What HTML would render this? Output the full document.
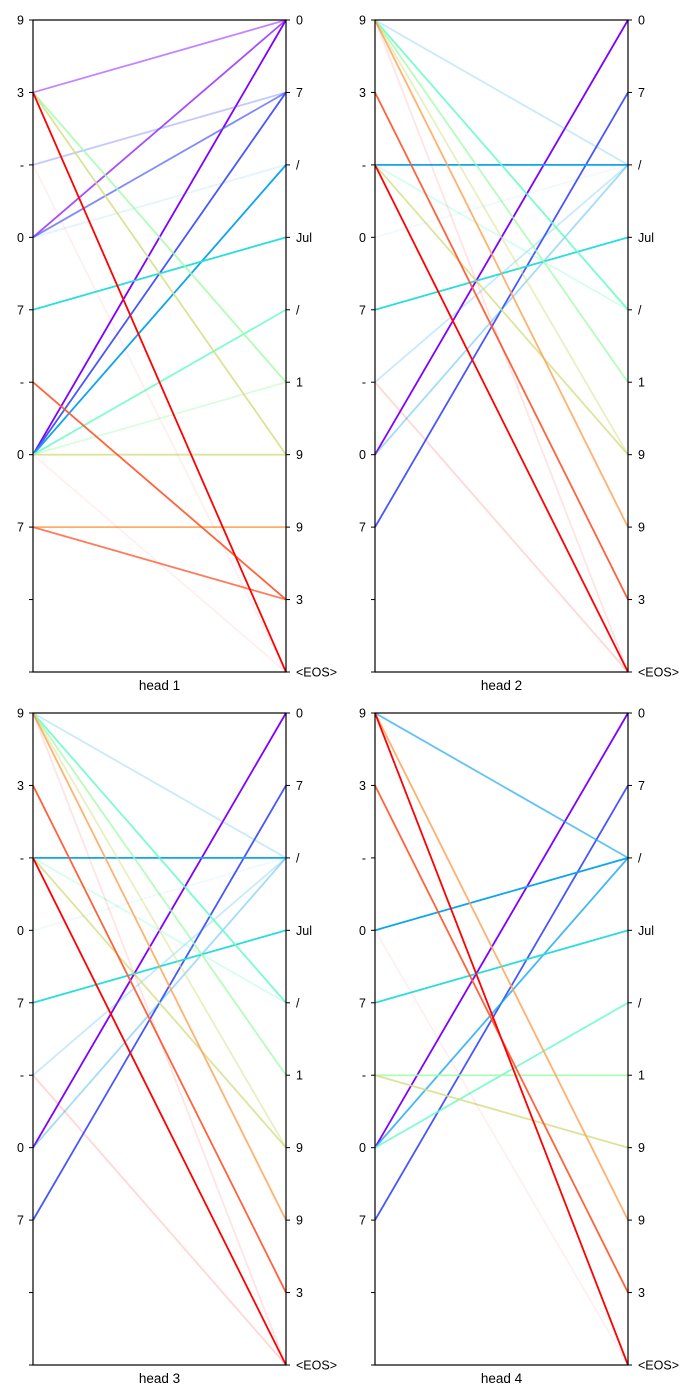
<!DOCTYPE html>
<html><head><meta charset="utf-8"><style>
html,body{margin:0;padding:0;background:#fff;}
svg{display:block;font-family:"Liberation Sans","DejaVu Sans",sans-serif;}
</style></head><body>
<svg id="chart" width="700" height="1400" viewBox="0 0 700 1400"></svg>
<script>
const leftTokens = ["9","3","-","0","7","-","0","7","",""];
const rightTokens = ["0","7","/","Jul","/","1","9","9","3","<EOS>"];
const headTitles = ["head 1","head 2","head 3","head 4"];
// edges: [source index, target index, weight]
const head1Edges = [[6,0,1],[3,0,0.6],[1,0,0.35],[0,0,0.02],[6,1,1],[3,1,0.6],[2,1,0.2],[6,2,1],[3,2,0.05],[4,3,1],[6,4,0.75],[1,5,0.7],[6,5,0.25],[1,6,0.75],[6,6,0.7],[7,7,0.85],[5,8,0.9],[7,8,0.7],[1,9,1],[2,9,0.02],[6,9,0.02]];
const head2Edges = [[6,0,1],[7,1,1],[2,2,1],[6,2,0.25],[0,2,0.12],[5,2,0.12],[4,3,1],[0,4,0.8],[2,4,0.15],[0,5,0.65],[2,6,0.7],[0,6,0.35],[0,7,0.8],[1,8,0.9],[2,9,1],[5,9,0.07],[0,9,0.04],[3,2,0.02]];
const head3Edges = [[6,0,1],[7,1,1],[2,2,1],[6,2,0.25],[0,2,0.12],[5,2,0.12],[4,3,1],[0,4,0.8],[2,4,0.15],[0,5,0.65],[2,6,0.7],[0,6,0.35],[0,7,0.8],[1,8,0.9],[2,9,1],[5,9,0.07],[0,9,0.04],[3,2,0.02]];
const head4Edges = [[6,0,1],[7,1,1],[0,2,0.55],[3,2,1],[6,2,0.7],[4,3,1],[6,4,0.75],[5,5,0.7],[5,6,0.75],[0,7,0.8],[1,8,0.9],[0,9,1],[3,9,0.02]];
const allEdges = [head1Edges, head2Edges, head3Edges, head4Edges];

const NS = "http://www.w3.org/2000/svg";
const svg = document.getElementById("chart");
const panels = [[33,20],[375,20],[33,713],[375,713]];
const PW = 253, PH = 652;
function rainbow(t){
  const c=v=>Math.round(Math.max(0,Math.min(1,v))*255);
  return `rgb(${c(Math.abs(2*t-0.5))},${c(Math.sin(Math.PI*t))},${c(Math.cos(Math.PI*t/2))})`;
}
function mk(tag, attrs, parent){
  const e=document.createElementNS(NS,tag);
  for(const k in attrs) e.setAttribute(k,attrs[k]);
  parent.appendChild(e); return e;
}
allEdges.forEach((edges,h)=>{
  const [x0,y0]=panels[h];
  const yScale=i=>y0+i*PH/(leftTokens.length-1);
  const g=mk("g",{},svg);
  
  
  edges.forEach(([s,t,w])=>{
    const l=mk("line",{x1:x0,y1:yScale(s),x2:x0+PW,y2:yScale(t),stroke:rainbow(t/9),"stroke-opacity":Math.pow(w,0.7),"stroke-width":1.8},g);
    
    
  });
  const r=mk("rect",{x:x0,y:y0,width:PW,height:PH,fill:"none",stroke:"#000","stroke-width":1.2},g);
  
  
  leftTokens.forEach((tk,i)=>{
    const y=yScale(i);
    mk("line",{x1:x0-4,y1:y,x2:x0,y2:y,stroke:"#000"},g);
    const tx=mk("text",{x:x0-9,y:y+4.5,"text-anchor":"end","font-size":12.5},g);
    tx.textContent=tk;
    
    
  });
  rightTokens.forEach((tk,i)=>{
    const y=yScale(i);
    mk("line",{x1:x0+PW,y1:y,x2:x0+PW+4,y2:y,stroke:"#000"},g);
    const tx=mk("text",{x:x0+PW+10,y:y+4.5,"font-size":12.5},g);
    tx.textContent=tk;
    
    
  });
  const tt=mk("text",{x:x0+PW/2,y:y0+PH+18,"text-anchor":"middle","font-size":13.5},g);
  tt.textContent=headTitles[h];
  
  
});
</script>
</body></html>
